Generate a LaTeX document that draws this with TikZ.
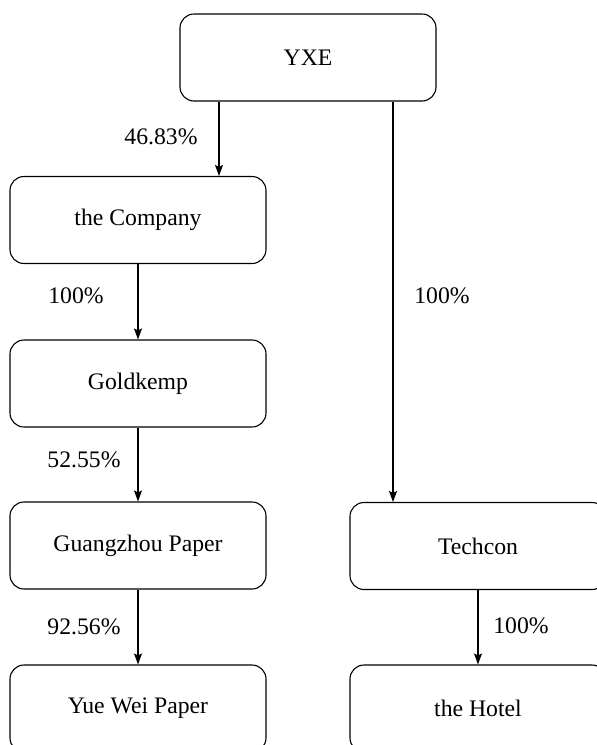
\documentclass[tikz,border=0pt]{standalone}
\usepackage{fontspec}
\setmainfont{Liberation Serif}
\usetikzlibrary{arrows.meta}
\begin{document}
\begin{tikzpicture}[x=1pt,y=-1pt,
  box/.style={draw, line width=1.1pt, rounded corners=14pt, minimum width=256pt, minimum height=87pt, inner sep=0pt, font=\fontsize{23.7}{28}\selectfont},
  lbl/.style={inner sep=0pt, font=\fontsize{23.7}{28}\selectfont},
  arr/.style={draw, line width=1.1pt, -{Stealth[length=11pt,width=8pt,inset=2pt]}}]
\useasboundingbox (0,0) rectangle (597,745);
\node[box] (yxe) at (308,57.5) {YXE};
\node[box] (company) at (138,220) {the Company};
\node[box] (goldkemp) at (138,383.5) {Goldkemp};
\node[box] (guangzhou) at (138,545.5) {Guangzhou Paper};
\node[box] (yuewei) at (138,708.5) {Yue Wei Paper};
\node[box] (techcon) at (478,546) {Techcon};
\node[box] (hotel) at (478,708.5) {the Hotel};
\draw[arr] ([xshift=-89pt]yxe.south) -- ([xshift=-89pt]yxe.south |- company.north);
\draw[arr] ([xshift=85pt]yxe.south) -- ([xshift=85pt]yxe.south |- techcon.north);
\draw[arr] (company) -- (goldkemp);
\draw[arr] (goldkemp) -- (guangzhou);
\draw[arr] (guangzhou) -- (yuewei);
\draw[arr] (techcon) -- (hotel);
\node[lbl] (l1) at (161,137) {46.83\%};
\node[lbl] (l2) at (76,296) {100\%};
\node[lbl] (l3) at (84,460) {52.55\%};
\node[lbl] (l4) at (84,627) {92.56\%};
\node[lbl] (l5) at (442,296) {100\%};
\node[lbl] (l6) at (521,626) {100\%};
\end{tikzpicture}
\end{document}
